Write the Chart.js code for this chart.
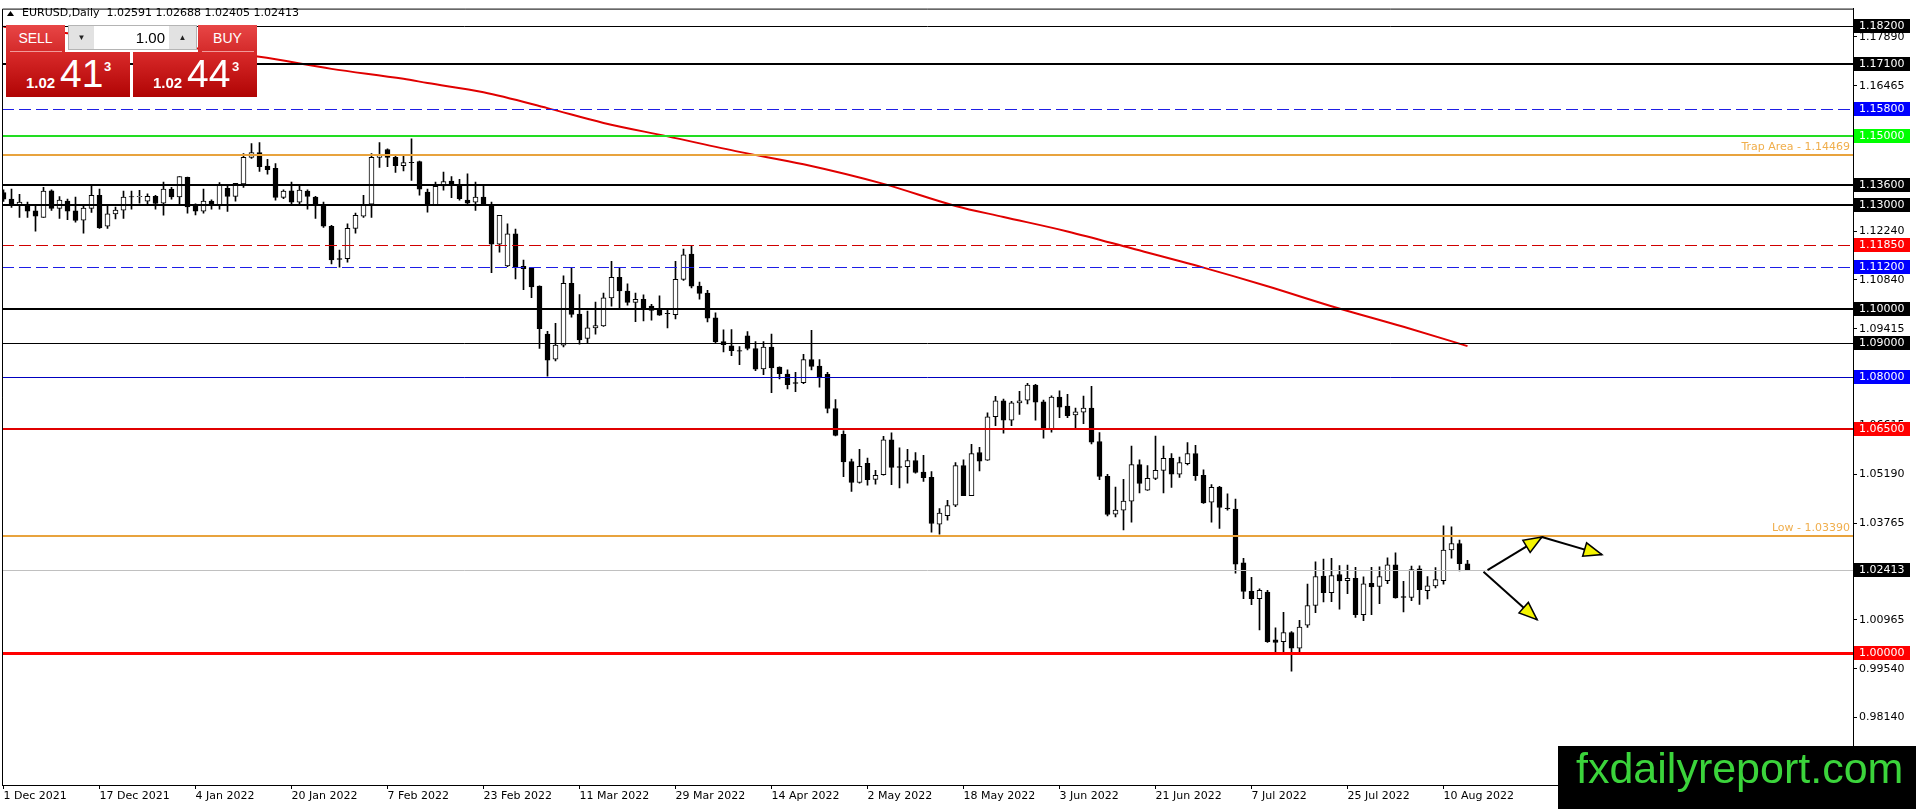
<!DOCTYPE html>
<html lang="fr">
<head>
<meta charset="utf-8">
<title>EURUSD, Daily</title>
<script src="https://cdn.jsdelivr.net/npm/chart.js@4.4.0/dist/chart.umd.min.js"></script>
<style>
    html, body { margin: 0; padding: 0; background: #fff; overflow: hidden; }
    #wrap { position: relative; width: 1916px; height: 809px; }
    #eurusd { position: absolute; left: 0; top: 0; }
    .tab { position: absolute; top: 25px; width: 59px; height: 27px; background: linear-gradient(#e84646, #d42a2a); color: #fff; font-family: 'Liberation Sans', Arial, sans-serif; font-size: 14px; text-align: center; line-height: 27px; }
    .sep { position: absolute; top: 51px; height: 1px; width: 52px; background: #f19a9a; }
    .price { position: absolute; top: 52px; width: 124px; height: 45px; background: linear-gradient(#d92a2a, #b00404); color: #fff; }
    .price span { position: absolute; font-family: 'Liberation Sans', Arial, sans-serif; }
    .p-small { left: 20px; top: 23px; font-size: 15px; font-weight: bold; line-height: 15px; }
    .p-big { left: 54px; top: 2px; font-size: 39px; line-height: 39px; }
    .p-sup { left: 98px; top: 8px; font-size: 13px; font-weight: bold; line-height: 13px; }
    #lot { position: absolute; left: 68px; top: 25px; width: 129px; height: 25px; box-sizing: border-box; border: 1px solid #b4b4b4; background: #fff; }
    #lot .btn { position: absolute; top: 0; width: 25px; height: 23px; background: #e2e2e2; font-size: 8px; line-height: 23px; text-align: center; color: #222; }
    #lot .val { position: absolute; right: 31px; top: 0; font-family: 'Liberation Sans', Arial, sans-serif; font-size: 15px; line-height: 23px; color: #000; }
    #mark { position: absolute; left: 1558px; top: 746px; width: 358px; height: 63px; background: #000; }
    #mark span { position: absolute; left: 18px; top: 1px; font-family: 'Liberation Sans', Arial, sans-serif; font-size: 43px; line-height: 43px; color: #3bd43b; }
</style>
</head>
<body>
<div id="wrap">
    <canvas id="eurusd" width="1916" height="809"></canvas>
    <div class="tab" style="left:6px">SELL</div>
    <div class="tab" style="left:198px">BUY</div>
    <div class="price" style="left:6px"><span class="p-small">1.02</span><span class="p-big">41</span><span class="p-sup">3</span></div>
    <div class="price" style="left:133px"><span class="p-small">1.02</span><span class="p-big">44</span><span class="p-sup" style="left:99px">3</span></div>
    <div class="sep" style="left:10px"></div>
    <div class="sep" style="left:202px"></div>
    <div id="lot"><span class="btn" style="left:0">▼</span><span class="val">1.00</span><span class="btn" style="right:0;width:27px">▲</span></div>
    <div id="mark"><span>fxdailyreport.com</span></div>
</div>
<script>
// Données journalières EURUSD (une bougie par séance, index 0 = 1 Dec 2021)
const opens = [
    1.1337, 1.1318, 1.1300, 1.1297, 1.1284, 1.1265, 1.1342, 1.1291, 1.1312, 1.1284,
    1.1257, 1.1291, 1.1329, 1.1239, 1.1275, 1.1286, 1.1325, 1.1325, 1.1312, 1.1326,
    1.1306, 1.1347, 1.1324, 1.1381, 1.1298, 1.1283, 1.1312, 1.1300, 1.1349, 1.1326,
    1.1362, 1.1439, 1.1453, 1.1414, 1.1407, 1.1323, 1.1342, 1.1309, 1.1341, 1.1324,
    1.1298, 1.1239, 1.1145, 1.1145, 1.1233, 1.1268, 1.1303, 1.1439, 1.1462, 1.1439,
    1.1415, 1.1425, 1.1427, 1.1338, 1.1300, 1.1356, 1.1370, 1.1358, 1.1315, 1.1309,
    1.1324, 1.1303, 1.1187, 1.1124, 1.1217, 1.1123, 1.1118, 1.1065, 1.0926, 1.0853,
    1.0894, 1.1073, 1.0984, 1.0913, 1.0944, 1.0950, 1.1031, 1.1091, 1.1051, 1.1018,
    1.1027, 1.1007, 1.1000, 1.0986, 1.0982, 1.1085, 1.1158, 1.1065, 1.1045, 1.0973,
    1.0904, 1.0892, 1.0878, 1.0921, 1.0884, 1.0825, 1.0888, 1.0830, 1.0810, 1.0785,
    1.0785, 1.0852, 1.0833, 1.0809, 1.0710, 1.0635, 1.0556, 1.0495, 1.0551, 1.0504,
    1.0518, 1.0619, 1.0541, 1.0541, 1.0559, 1.0525, 1.0510, 1.0374, 1.0399, 1.0429,
    1.0544, 1.0457, 1.0582, 1.0560, 1.0686, 1.0732, 1.0676, 1.0726, 1.0734, 1.0778,
    1.0729, 1.0651, 1.0743, 1.0717, 1.0691, 1.0699, 1.0711, 1.0614, 1.0513, 1.0403,
    1.0415, 1.0441, 1.0547, 1.0473, 1.0507, 1.0530, 1.0565, 1.0519, 1.0550, 1.0579,
    1.0516, 1.0438, 1.0482, 1.0421, 1.0418, 1.0262, 1.0179, 1.0158, 1.0177, 1.0038,
    1.0033, 1.0059, 1.0014, 1.0081, 1.0138, 1.0223, 1.0175, 1.0228, 1.0210, 1.0217,
    1.0111, 1.0202, 1.0193, 1.0210, 1.0256, 1.0164, 1.0161, 1.0244, 1.0181, 1.0195,
    1.0210, 1.0299, 1.0318, 1.02591
];
const highs = [
    1.1345, 1.1347, 1.1332, 1.1309, 1.1297, 1.1352, 1.1345, 1.1325, 1.1318, 1.1324,
    1.1300, 1.1358, 1.1347, 1.1303, 1.1295, 1.1341, 1.1341, 1.1343, 1.1333, 1.1329,
    1.1367, 1.1352, 1.1383, 1.1382, 1.1304, 1.1347, 1.1316, 1.1366, 1.1358, 1.1364,
    1.1450, 1.1479, 1.1482, 1.1433, 1.1421, 1.1345, 1.1367, 1.1359, 1.1345, 1.1326,
    1.1309, 1.1242, 1.1170, 1.1246, 1.1277, 1.1329, 1.1450, 1.1482, 1.1464, 1.1445,
    1.1445, 1.1493, 1.1428, 1.1347, 1.1367, 1.1396, 1.1383, 1.1375, 1.1391, 1.1367,
    1.1358, 1.1309, 1.1271, 1.1246, 1.1231, 1.1141, 1.1120, 1.1066, 1.0934, 1.0957,
    1.1095, 1.1118, 1.1041, 1.0993, 1.1019, 1.1045, 1.1137, 1.1120, 1.1072, 1.1045,
    1.1040, 1.1012, 1.1037, 1.0997, 1.1137, 1.1173, 1.1182, 1.1077, 1.1053, 1.0988,
    1.0938, 1.0939, 1.0890, 1.0933, 1.0904, 1.0904, 1.0926, 1.0831, 1.0822, 1.0815,
    1.0867, 1.0937, 1.0852, 1.0815, 1.0736, 1.0645, 1.0563, 1.0591, 1.0566, 1.0530,
    1.0629, 1.0639, 1.0596, 1.0591, 1.0582, 1.0574, 1.0527, 1.0419, 1.0443, 1.0553,
    1.0561, 1.0606, 1.0597, 1.0697, 1.0745, 1.0737, 1.0731, 1.0760, 1.0783, 1.0780,
    1.0734, 1.0747, 1.0761, 1.0751, 1.0711, 1.0746, 1.0774, 1.0640, 1.0519, 1.0482,
    1.0504, 1.0601, 1.0561, 1.0544, 1.0630, 1.0601, 1.0579, 1.0569, 1.0611, 1.0603,
    1.0532, 1.0489, 1.0484, 1.0462, 1.0447, 1.0275, 1.0220, 1.0186, 1.0182, 1.0073,
    1.0118, 1.0062, 1.0095, 1.0200, 1.0265, 1.0273, 1.0275, 1.0254, 1.0255, 1.0249,
    1.0221, 1.0249, 1.0250, 1.0276, 1.0291, 1.0208, 1.0252, 1.0253, 1.0222, 1.0248,
    1.0369, 1.0366, 1.0328, 1.02688
];
const lows = [
    1.1311, 1.1294, 1.1265, 1.1265, 1.1225, 1.1265, 1.1285, 1.1262, 1.1258, 1.1251,
    1.1219, 1.1279, 1.1233, 1.1233, 1.1260, 1.1262, 1.1289, 1.1306, 1.1300, 1.1289,
    1.1271, 1.1318, 1.1300, 1.1277, 1.1272, 1.1277, 1.1289, 1.1289, 1.1282, 1.1312,
    1.1352, 1.1436, 1.1398, 1.1390, 1.1315, 1.1319, 1.1300, 1.1300, 1.1289, 1.1262,
    1.1236, 1.1130, 1.1120, 1.1135, 1.1219, 1.1265, 1.1265, 1.1410, 1.1412, 1.1395,
    1.1400, 1.1372, 1.1329, 1.1280, 1.1299, 1.1344, 1.1322, 1.1315, 1.1304, 1.1285,
    1.1299, 1.1104, 1.1164, 1.1122, 1.1086, 1.1055, 1.1032, 1.0884, 1.0804, 1.0848,
    1.0889, 1.0975, 1.0897, 1.0899, 1.0926, 1.0948, 1.1007, 1.1003, 1.1010, 1.0962,
    1.0964, 1.0966, 1.0980, 1.0944, 1.0970, 1.1082, 1.1060, 1.1027, 1.0961, 1.0899,
    1.0874, 1.0863, 1.0837, 1.0880, 1.0820, 1.0808, 1.0756, 1.0796, 1.0767, 1.0759,
    1.0782, 1.0822, 1.0772, 1.0697, 1.0630, 1.0512, 1.0469, 1.0493, 1.0487, 1.0490,
    1.0516, 1.0489, 1.0479, 1.0493, 1.0522, 1.0498, 1.0351, 1.0345, 1.0386, 1.0425,
    1.0457, 1.0457, 1.0529, 1.0559, 1.0660, 1.0638, 1.0660, 1.0693, 1.0723, 1.0676,
    1.0624, 1.0641, 1.0683, 1.0683, 1.0652, 1.0666, 1.0607, 1.0503, 1.0398, 1.0395,
    1.0357, 1.0380, 1.0465, 1.0472, 1.0503, 1.0465, 1.0481, 1.0510, 1.0546, 1.0501,
    1.0434, 1.0380, 1.0362, 1.0415, 1.0232, 1.0158, 1.0140, 1.0067, 1.0031, 1.0002,
    1.0002, 0.9947, 1.0002, 1.0074, 1.0117, 1.0148, 1.0149, 1.0127, 1.0172, 1.0103,
    1.0094, 1.0111, 1.0143, 1.0201, 1.0159, 1.0119, 1.0152, 1.0141, 1.0157, 1.0189,
    1.0200, 1.0275, 1.0238, 1.02405
];
const closes = [
    1.1318, 1.1300, 1.1309, 1.1283, 1.1268, 1.1341, 1.1291, 1.1315, 1.1283, 1.1256,
    1.1292, 1.1329, 1.1234, 1.1275, 1.1286, 1.1324, 1.1324, 1.1326, 1.1326, 1.1305,
    1.1347, 1.1324, 1.1383, 1.1295, 1.1283, 1.1312, 1.1300, 1.1361, 1.1326, 1.1364,
    1.1439, 1.1453, 1.1412, 1.1403, 1.1323, 1.1341, 1.1309, 1.1344, 1.1326, 1.1300,
    1.1239, 1.1141, 1.1143, 1.1233, 1.1271, 1.1303, 1.1439, 1.1445, 1.1439, 1.1415,
    1.1424, 1.1424, 1.1347, 1.1300, 1.1355, 1.1369, 1.1360, 1.1319, 1.1306, 1.1324,
    1.1300, 1.1187, 1.1271, 1.1217, 1.1120, 1.1116, 1.1063, 1.0942, 1.0850, 1.0894,
    1.1073, 1.0983, 1.0909, 1.0944, 1.0951, 1.1031, 1.1091, 1.1051, 1.1018, 1.1027,
    1.1001, 1.0995, 1.0981, 1.0985, 1.1085, 1.1156, 1.1065, 1.1044, 1.0972, 1.0903,
    1.0895, 1.0878, 1.0876, 1.0884, 1.0824, 1.0888, 1.0828, 1.0811, 1.0779, 1.0783,
    1.0852, 1.0832, 1.0800, 1.0710, 1.0632, 1.0555, 1.0495, 1.0542, 1.0503, 1.0516,
    1.0619, 1.0539, 1.0539, 1.0559, 1.0524, 1.0509, 1.0376, 1.0406, 1.0428, 1.0544,
    1.0457, 1.0579, 1.0557, 1.0686, 1.0732, 1.0676, 1.0726, 1.0732, 1.0778, 1.0728,
    1.0651, 1.0743, 1.0714, 1.0689, 1.0700, 1.0711, 1.0612, 1.0513, 1.0402, 1.0415,
    1.0441, 1.0547, 1.0492, 1.0507, 1.0530, 1.0565, 1.0519, 1.0553, 1.0579, 1.0515,
    1.0436, 1.0481, 1.0423, 1.0419, 1.0258, 1.0179, 1.0158, 1.0182, 1.0033, 1.0031,
    1.0059, 1.0014, 1.0075, 1.0138, 1.0222, 1.0175, 1.0225, 1.0209, 1.0217, 1.0111,
    1.0201, 1.0192, 1.0222, 1.0256, 1.0160, 1.0161, 1.0242, 1.0184, 1.0195, 1.0213,
    1.0299, 1.0318, 1.0259, 1.02413
];

const maBars   = [0, 3, 32, 41, 50, 53, 60, 68, 75, 83, 92, 100, 110, 119, 125, 133, 141, 150, 158, 166, 175, 183];
const maValues = [1.1818, 1.1812, 1.1731, 1.1696, 1.1667, 1.1655, 1.1628, 1.1582, 1.1539, 1.1500, 1.1455,
                  1.1419, 1.1362, 1.1298, 1.1266, 1.1224, 1.1175, 1.1119, 1.1065, 1.1007, 1.0947, 1.0891];

// Étiquettes de dates (une toutes les 12 séances)
const dateLabels = ['1 Dec 2021', '17 Dec 2021', '4 Jan 2022', '20 Jan 2022', '7 Feb 2022', '23 Feb 2022',
                    '11 Mar 2022', '29 Mar 2022', '14 Apr 2022', '2 May 2022', '18 May 2022', '3 Jun 2022',
                    '21 Jun 2022', '7 Jul 2022', '25 Jul 2022', '10 Aug 2022'];
const dateStep = 12;

// Graduations de l'échelle des prix
const priceTicks = [1.17890, 1.16465, 1.15040, 1.13615, 1.12240, 1.10840, 1.09415, 1.07990,
                    1.06615, 1.05190, 1.03765, 1.02365, 1.00965, 0.99540, 0.98140];

// Niveaux horizontaux
const levelPrices = [1.18200, 1.17100, 1.15800, 1.15000, 1.14469, 1.13600, 1.13000, 1.11850,
                     1.11200, 1.10000, 1.09000, 1.08000, 1.06500, 1.03390, 1.02413, 1.00000];
const levelTexts  = ['', '', '', '', 'Trap Area - 1.14469', '', '', '', '', '', '', '', '', 'Low - 1.03390', '', ''];
const levelStyles = [
    { color: '#000000', width: 1, box: '#000000' },
    { color: '#000000', width: 2, box: '#000000' },
    { color: '#1e1ee6', width: 1, dash: [12, 5], box: '#0000ff' },
    { color: '#22dd22', width: 2, box: '#00ff00' },
    { color: '#e8a33d', width: 2, box: null },
    { color: '#000000', width: 2, box: '#000000' },
    { color: '#000000', width: 2, box: '#000000' },
    { color: '#d00000', width: 1, dash: [12, 5], box: '#ff0000' },
    { color: '#1e1ee6', width: 1, dash: [12, 5], box: '#0000ff' },
    { color: '#000000', width: 2, box: '#000000' },
    { color: '#000000', width: 1, box: '#000000' },
    { color: '#0000c0', width: 1, box: '#0000ff' },
    { color: '#e00000', width: 2, box: '#ff0000' },
    { color: '#e8a33d', width: 2, box: null },
    { color: '#c0c0c0', width: 1, box: '#000000' },
    { color: '#ff0000', width: 3, box: '#ff0000' }
];

// Flèches de scénario : [séance, prix] de départ et d'arrivée
const arrowStarts = [[185.5, 1.02408], [192.3, 1.03367], [185.0, 1.02359]];
const arrowEnds   = [[192.3, 1.03367], [199.8, 1.02857], [191.7, 1.00968]];

const FONT = 'DejaVu Sans';
const TITLE = 'EURUSD,Daily  1.02591 1.02688 1.02405 1.02413';

// Plugin des niveaux, cadre, titre, étiquettes et flèches
const overlayPlugin = {
    id: 'overlay',
    afterDatasetsDraw(chart) {
        const { ctx, chartArea: a, scales } = chart;
        ctx.save();
        ctx.beginPath();
        ctx.rect(a.left, a.top, a.right - a.left, a.bottom - a.top);
        ctx.clip();
        levelPrices.forEach((p, i) => {
            const st = levelStyles[i];
            let y = Math.round(scales.y.getPixelForValue(p));
            if (st.width % 2) y += 0.5;
            ctx.strokeStyle = st.color;
            ctx.lineWidth = st.width;
            ctx.setLineDash(st.dash || []);
            ctx.beginPath();
            ctx.moveTo(a.left, y);
            ctx.lineTo(a.right, y);
            ctx.stroke();
            if (levelTexts[i]) {
                ctx.setLineDash([]);
                ctx.fillStyle = '#f0ae4c';
                ctx.font = '11px ' + FONT;
                ctx.textAlign = 'right';
                ctx.textBaseline = 'bottom';
                ctx.fillText(levelTexts[i], a.right - 3, y - 2);
            }
        });
        ctx.restore();
    },
    afterDraw(chart) {
        const { ctx, chartArea: a, scales } = chart;
        ctx.save();
        // Cadre haut et gauche
        ctx.strokeStyle = '#000';
        ctx.lineWidth = 1;
        ctx.beginPath();
        ctx.moveTo(a.left + 0.5, a.bottom);
        ctx.lineTo(a.left + 0.5, a.top + 0.5);
        ctx.lineTo(a.right, a.top + 0.5);
        ctx.stroke();

        // Titre du graphique
        ctx.fillStyle = '#000';
        ctx.beginPath();
        ctx.moveTo(7, 16);
        ctx.lineTo(14, 16);
        ctx.lineTo(10.5, 11);
        ctx.closePath();
        ctx.fill();
        ctx.font = '11px ' + FONT;
        ctx.textAlign = 'left';
        ctx.textBaseline = 'middle';
        ctx.fillText(TITLE, 22, 13);

        // Étiquettes de prix sur l'axe
        levelPrices.forEach((p, i) => {
            const st = levelStyles[i];
            if (!st.box) return;
            const y = Math.round(scales.y.getPixelForValue(p));
            ctx.fillStyle = st.box;
            ctx.fillRect(a.right + 1, y - 7, 56, 14);
            ctx.fillStyle = '#fff';
            ctx.fillText(p.toFixed(5), a.right + 6, y + 0.5);
        });

        // Flèches
        arrowStarts.forEach((s, i) => {
            const e = arrowEnds[i];
            const x0 = scales.x.getPixelForValue(s[0]), y0 = scales.y.getPixelForValue(s[1]);
            const x1 = scales.x.getPixelForValue(e[0]), y1 = scales.y.getPixelForValue(e[1]);
            const ang = Math.atan2(y1 - y0, x1 - x0);
            ctx.strokeStyle = '#000';
            ctx.lineWidth = 2;
            ctx.beginPath();
            ctx.moveTo(x0, y0);
            ctx.lineTo(x1, y1);
            ctx.stroke();
            const len = 18, half = 7;
            const bx = x1 - len * Math.cos(ang), by = y1 - len * Math.sin(ang);
            ctx.beginPath();
            ctx.moveTo(x1, y1);
            ctx.lineTo(bx + half * Math.sin(ang), by - half * Math.cos(ang));
            ctx.lineTo(bx - half * Math.sin(ang), by + half * Math.cos(ang));
            ctx.closePath();
            ctx.fillStyle = '#f4f400';
            ctx.fill();
            ctx.lineWidth = 1.5;
            ctx.stroke();
        });
        ctx.restore();
    }
};

class DailyChart {
    constructor(canvasId) {
        this.canvas = document.getElementById(canvasId);
        this.chart = null;
        if (this.canvas) this.initChart();
    }

    // Construire les jeux de données (mèches, corps, moyenne mobile)
    buildDatasets() {
        const wicks = highs.map((h, i) => ({ x: i, y: [lows[i], h] }));
        const bodies = opens.map((o, i) => ({ x: i, y: [o, closes[i]] }));
        const ma = maBars.map((b, i) => ({ x: b, y: maValues[i] }));
        return [
            {
                type: 'line',
                data: ma,
                borderColor: '#e00000',
                borderWidth: 2,
                pointRadius: 0,
                cubicInterpolationMode: 'monotone',
                order: 0
            },
            {
                type: 'bar',
                data: bodies,
                grouped: false,
                barThickness: 5,
                borderWidth: 1,
                borderSkipped: false,
                borderColor: '#000',
                backgroundColor: ctx => closes[ctx.dataIndex] >= opens[ctx.dataIndex] ? '#fff' : '#000',
                order: 1
            },
            {
                type: 'bar',
                data: wicks,
                grouped: false,
                barThickness: 1,
                borderWidth: 0,
                backgroundColor: '#000',
                order: 2
            }
        ];
    }

    initChart() {
        const tickFont = { family: FONT, size: 11 };
        this.chart = new Chart(this.canvas, {
            data: { datasets: this.buildDatasets() },
            plugins: [overlayPlugin],
            options: {
                responsive: false,
                animation: false,
                devicePixelRatio: 1,
                layout: { padding: { left: 2, top: 2, right: 0, bottom: 0 } },
                plugins: {
                    legend: { display: false },
                    tooltip: { enabled: false }
                },
                scales: {
                    x: {
                        type: 'linear',
                        offset: false,
                        min: -0.1875,
                        max: 231.1875,
                        bounds: 'data',
                        afterBuildTicks: s => { s.ticks = dateLabels.map((_, k) => ({ value: k * dateStep })); },
                        afterFit: s => { s.height = 24; },
                        grid: { offset: false, drawOnChartArea: false, drawTicks: true, tickLength: 4, color: '#000' },
                        border: { color: '#000', width: 1 },
                        ticks: {
                            align: 'start',
                            maxRotation: 0,
                            autoSkip: false,
                            padding: 1,
                            color: '#000',
                            font: tickFont,
                            callback: (v, i) => dateLabels[i]
                        }
                    },
                    y: {
                        type: 'linear',
                        position: 'right',
                        min: 0.96167,
                        max: 1.18710,
                        bounds: 'data',
                        afterBuildTicks: s => { s.ticks = priceTicks.map(v => ({ value: v })); },
                        afterFit: s => { s.width = 63; },
                        grid: { drawOnChartArea: false, drawTicks: true, tickLength: 4, color: '#000' },
                        border: { color: '#000', width: 1 },
                        ticks: {
                            padding: 2,
                            color: '#000',
                            font: tickFont,
                            callback: v => Number(v).toFixed(5)
                        }
                    }
                }
            }
        });
    }
}

new DailyChart('eurusd');
</script>
</body>
</html>
